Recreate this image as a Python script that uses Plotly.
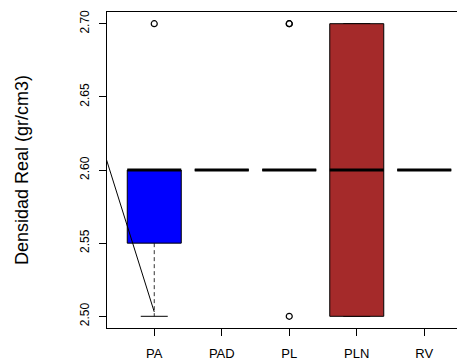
import plotly.graph_objects as go

categories = ["PA", "PAD", "PL", "PLN", "RV"]
q1 = [2.55, 2.60, 2.60, 2.50, 2.60]
median = [2.60, 2.60, 2.60, 2.60, 2.60]
q3 = [2.60, 2.60, 2.60, 2.70, 2.60]
lower_whisker = [2.50, 2.60, 2.60, 2.50, 2.60]
upper_whisker = [2.60, 2.60, 2.60, 2.70, 2.60]
box_colors = ["#0000FF", "#FFFFFF", "#FFFFFF", "#A52A2A", "#FFFFFF"]
outlier_cat = ["PA", "PL", "PL", "PL"]
outlier_val = [2.70, 2.70, 2.70, 2.50]
trend_x = [0.0, 1.0]
trend_y = [2.65, 2.503]
y_ticks = [2.50, 2.55, 2.60, 2.65, 2.70]
y_title = "Densidad Real (gr/cm3)"

HALF = 0.4
STAPLE = 0.2

fig = go.Figure()

# whiskers (dashed)
wx, wy = [], []
for i, c in enumerate(categories):
    p = i + 1
    wx += [p, p, None, p, p, None]
    wy += [q3[i], upper_whisker[i], None, q1[i], lower_whisker[i], None]
fig.add_trace(go.Scatter(x=wx, y=wy, mode="lines",
                         line=dict(color="#333333", width=1, dash="4px,3px"),
                         hoverinfo="skip", showlegend=False))

# staples
sx, sy = [], []
for i, c in enumerate(categories):
    p = i + 1
    sx += [p - STAPLE, p + STAPLE, None, p - STAPLE, p + STAPLE, None]
    sy += [upper_whisker[i], upper_whisker[i], None, lower_whisker[i], lower_whisker[i], None]
fig.add_trace(go.Scatter(x=sx, y=sy, mode="lines",
                         line=dict(color="black", width=1),
                         hoverinfo="skip", showlegend=False))

# boxes
for i, c in enumerate(categories):
    p = i + 1
    fig.add_trace(go.Scatter(
        x=[p - HALF, p + HALF, p + HALF, p - HALF, p - HALF],
        y=[q1[i], q1[i], q3[i], q3[i], q1[i]],
        mode="lines", fill="toself", fillcolor=box_colors[i],
        line=dict(color="black", width=1),
        hoverinfo="skip", showlegend=False))

# medians
mx, my = [], []
for i, c in enumerate(categories):
    p = i + 1
    mx += [p - HALF, p + HALF, None]
    my += [median[i], median[i], None]
fig.add_trace(go.Scatter(x=mx, y=my, mode="lines",
                         line=dict(color="black", width=3),
                         hoverinfo="skip", showlegend=False))

# outliers
fig.add_trace(go.Scatter(
    x=[categories.index(c) + 1 for c in outlier_cat], y=outlier_val,
    mode="markers",
    marker=dict(symbol="circle-open", size=6, color="black", line=dict(width=1.2)),
    hoverinfo="skip", showlegend=False))

# stray line
fig.add_trace(go.Scatter(x=trend_x, y=trend_y, mode="lines",
                         line=dict(color="black", width=1),
                         hoverinfo="skip", showlegend=False))

fig.update_layout(
    width=457, height=362,
    margin=dict(l=107, r=0, t=12, b=34, autoexpand=False),
    paper_bgcolor="white", plot_bgcolor="white",
    font=dict(family="Liberation Sans, Arial, sans-serif", color="black", size=12),
    showlegend=False,
)
fig.update_xaxes(
    range=[0.3, 0.3 + 350 / 67.5],
    tickmode="array", tickvals=list(range(1, len(categories) + 1)), ticktext=categories,
    showgrid=False, zeroline=False, automargin=False,
    showline=True, linecolor="black", linewidth=1, mirror=True,
    ticks="outside", ticklen=7, tickcolor="black", tickwidth=1,
    tickfont=dict(size=13), ticklabelstandoff=6,
)
fig.update_yaxes(
    range=[2.492, 2.708],
    tickmode="array", tickvals=y_ticks, ticktext=[f"{v:.2f}" for v in y_ticks],
    tickangle=-90,
    showgrid=False, zeroline=False, automargin=False,
    showline=True, linecolor="black", linewidth=1,
    ticks="outside", ticklen=7, tickcolor="black", tickwidth=1,
    tickfont=dict(size=12), ticklabelstandoff=5,
    title=dict(text=y_title, font=dict(size=18), standoff=44),
)

fig.write_html(
    "out.html",
    config={"displayModeBar": False},
    post_script="document.body.style.margin='0';document.body.style.overflow='hidden';",
)
